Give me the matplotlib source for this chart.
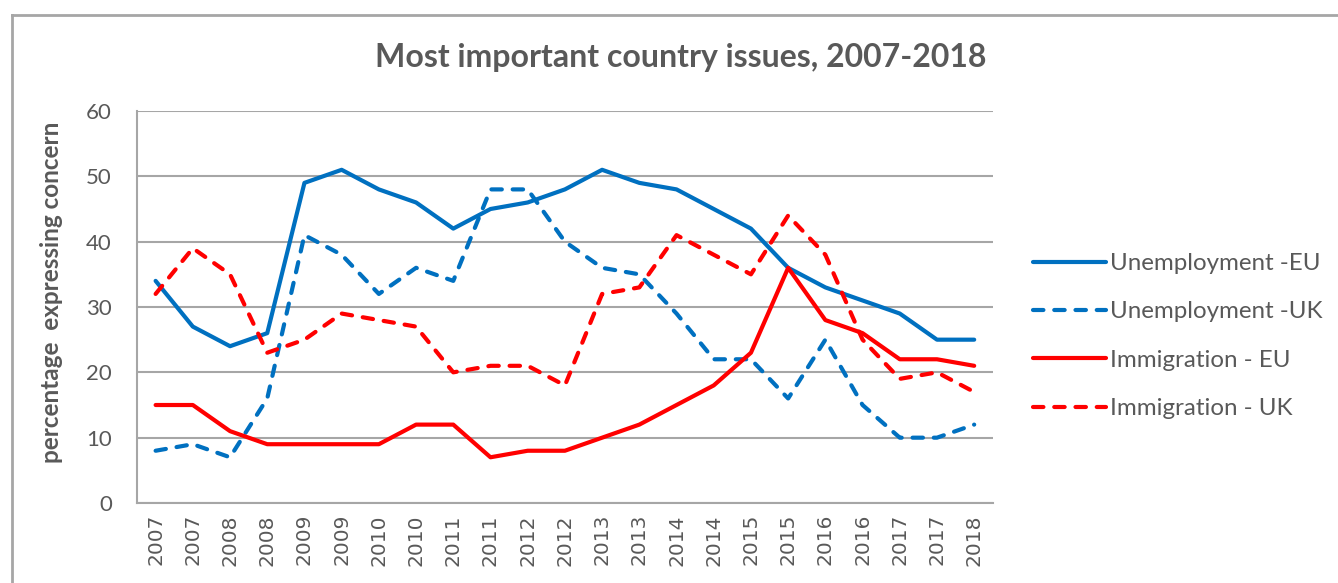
"""
Most important country issues, 2007-2018 - line chart.
"""

import matplotlib
matplotlib.use("Agg")
import matplotlib.pyplot as plt
from matplotlib.lines import Line2D

# data
years = ["2007", "2007", "2008", "2008", "2009", "2009", "2010", "2010",
         "2011", "2011", "2012", "2012", "2013", "2013", "2014", "2014",
         "2015", "2015", "2016", "2016", "2017", "2017", "2018"]
unemp_eu = [34, 27, 24, 26, 49, 51, 48, 46, 42, 45, 46, 48,
            51, 49, 48, 45, 42, 36, 33, 31, 29, 25, 25]
unemp_uk = [8, 9, 7, 16, 41, 38, 32, 36, 34, 48, 48, 40,
            36, 35, 29, 22, 22, 16, 25, 15, 10, 10, 12]
immig_eu = [15, 15, 11, 9, 9, 9, 9, 12, 12, 7, 8, 8,
            10, 12, 15, 18, 23, 36, 28, 26, 22, 22, 21]
immig_uk = [32, 39, 35, 23, 25, 29, 28, 27, 20, 21, 21, 18,
            32, 33, 41, 38, 35, 44, 38, 25, 19, 20, 17]

BLUE = "#0070C0"
RED = "#FF0000"
GREY = "#595959"
GRID = "#A6A6A6"

plt.rcParams['font.family'] = ['Lato', 'DejaVu Sans']

fig = plt.figure(figsize=(13.38, 5.83), dpi=100)
ax = fig.add_axes([0.1024, 0.1372, 0.742 - 0.1024, 0.8096 - 0.1372])

x = list(range(len(years)))
dash = (2.5, 2.6)
ax.plot(x, unemp_eu, color=BLUE, lw=3, label="Unemployment -EU",
        solid_capstyle="round")
ax.plot(x, unemp_uk, color=BLUE, lw=3, label="Unemployment -UK",
        dashes=dash, dash_capstyle="round")
ax.plot(x, immig_eu, color=RED, lw=3, label="Immigration - EU",
        solid_capstyle="round")
ax.plot(x, immig_uk, color=RED, lw=3, label="Immigration - UK",
        dashes=dash, dash_capstyle="round")

ax.set_xlim(-0.5, len(years) - 0.5)
ax.set_ylim(0, 60)
ax.set_yticks(range(0, 61, 10))
ax.set_xticks(x)
ax.set_xticklabels(years, rotation=90, fontfamily="DejaVu Sans")
ax.tick_params(axis="x", length=0, labelsize=14.5, labelcolor=GREY, pad=8)
ax.tick_params(axis="y", length=0, labelsize=16, labelcolor=GREY, pad=18)

ax.grid(axis="y", color=GRID, lw=1.5)
ax.set_axisbelow(True)
for s in ["top", "right"]:
    ax.spines[s].set_visible(False)
for s in ["left", "bottom"]:
    ax.spines[s].set_color(GRID)
    ax.spines[s].set_linewidth(1.5)

ax.set_ylabel("percentage  expressing concern", fontsize=17.5, fontweight="bold",
              color=GREY)
ax.yaxis.set_label_coords(63 / 1338, 1 - 292 / 583, transform=fig.transFigure)

fig.text(681 / 1338, 1 - 58 / 583, "Most important country issues, 2007-2018",
         ha="center", va="center", fontsize=23, fontweight="bold", color=GREY)

leg = ax.legend(loc="center left", bbox_to_anchor=(1033 / 1338, 1 - 336 / 583),
                bbox_transform=fig.transFigure, frameon=False, fontsize=17.4,
                handlelength=3.0, handletextpad=0.2, labelspacing=1.13,
                borderpad=0, borderaxespad=0, labelcolor=GREY)

# outer chart-area border (cropped at right and bottom)
fig.add_artist(Line2D([0.009, 1.0], [0.974, 0.974], color=GRID, lw=2,
                      transform=fig.transFigure))
fig.add_artist(Line2D([0.009, 0.009], [0.0, 0.974], color=GRID, lw=2,
                      transform=fig.transFigure))

fig.savefig("out.png", dpi=100)
